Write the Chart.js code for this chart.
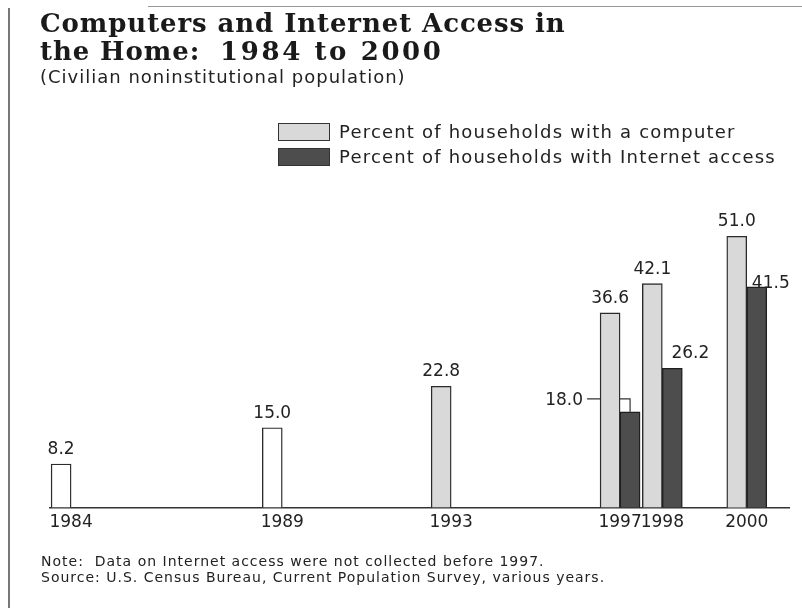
<!DOCTYPE html>
<html>
<head>
<meta charset="utf-8">
<title>Computers and Internet Access in the Home: 1984 to 2000</title>
<script src="https://cdn.jsdelivr.net/npm/chart.js@4.4.1/dist/chart.umd.min.js"></script>
<style>
  html, body { margin: 0; padding: 0; background: #fff; }
  #page { position: relative; width: 802px; height: 608px; overflow: hidden; font-family: "DejaVu Sans", sans-serif; color: #222; }
  #chart { position: absolute; left: 0; top: 0; }
  .frame-left { position: absolute; left: 8px; top: 8px; width: 2px; height: 600px; background: #777; }
  .frame-top { position: absolute; left: 148px; top: 6px; width: 654px; height: 1px; background: #999; }
  h1 { position: absolute; left: 40px; top: 9px; margin: 0; font: bold 26px/28px "DejaVu Serif", serif; letter-spacing: 0.9px; color: #1a1a1a; white-space: nowrap; }
  h1 .span { letter-spacing: 2.6px; }
  .sub { position: absolute; left: 40px; top: 67px; font-size: 18px; line-height: 20px; letter-spacing: 1px; white-space: nowrap; }
  .legend { position: absolute; left: 278px; top: 119px; font-size: 18px; letter-spacing: 1.2px; white-space: nowrap; }
  .legend .row { height: 25px; display: flex; align-items: center; }
  .legend .swatch { width: 50px; height: 16px; border: 1px solid #333; margin-right: 9px; }
  .notes { position: absolute; left: 41px; top: 553px; font-size: 14px; line-height: 16px; letter-spacing: 1px; white-space: nowrap; }
</style>
</head>
<body>
<div id="page">
  <canvas id="chart" width="802" height="608"></canvas>
  <div class="frame-left"></div>
  <div class="frame-top"></div>
  <h1>Computers and Internet Access in<br>the Home:&nbsp; <span class="span">1984 to 2000</span></h1>
  <div class="sub">(Civilian noninstitutional population)</div>
  <div class="legend" id="legend"></div>
  <div class="notes">Note:&nbsp; Data on Internet access were not collected before 1997.<br>Source: U.S. Census Bureau, Current Population Survey, various years.</div>
</div>
<script>
const years = [1984, 1989, 1993, 1997, 1998, 2000]
const computerPct = [8.2, 15.0, 22.8, 36.6, 42.1, 51.0]
const internetPct = [null, null, null, 18.0, 26.2, 41.5]
const seriesNames = ['Percent of households with a computer', 'Percent of households with Internet access']

const computerFill = '#d9d9d9'
const earlyFill = '#ffffff'   // 1984 and 1989 bars print as open boxes
const internetFill = '#4d4d4d'

// value labels that the printed figure moves off their bars
const labelNudge = {
  '1-1997': { leader: true },
  '1-1998': { dx: 18 },
  '1-2000': { dx: 14, dy: 11 }
}

const legend = document.getElementById('legend')
;[computerFill, internetFill].forEach((fill, i) => {
  const row = document.createElement('div')
  row.className = 'row'
  row.innerHTML = '<span class="swatch" style="background:' + fill + '"></span><span>' + seriesNames[i] + '</span>'
  legend.appendChild(row)
})

const valueLabels = {
  id: 'valueLabels',
  // leader line for 18.0 runs behind the 1997 computer bar
  beforeDatasetsDraw(chart) {
    const ctx = chart.ctx
    chart.data.datasets.forEach((ds, di) => {
      chart.getDatasetMeta(di).data.forEach((bar, i) => {
        const nudge = labelNudge[di + '-' + years[i]]
        if (!nudge || !nudge.leader || ds.data[i].y == null) return
        const left = chart.getDatasetMeta(0).data[i]
        const textEnd = left.x - left.width / 2 - 17
        const ly = bar.y - 13
        ctx.save()
        ctx.strokeStyle = '#333'
        ctx.lineWidth = 1.2
        ctx.beginPath()
        ctx.moveTo(textEnd + 4, ly)
        ctx.lineTo(bar.x, ly)
        ctx.lineTo(bar.x, bar.y)
        ctx.stroke()
        ctx.restore()
      })
    })
  },
  afterDatasetsDraw(chart) {
    const ctx = chart.ctx
    ctx.save()
    ctx.font = '17px "DejaVu Sans"'
    ctx.fillStyle = '#222'
    ctx.textBaseline = 'alphabetic'
    chart.data.datasets.forEach((ds, di) => {
      chart.getDatasetMeta(di).data.forEach((bar, i) => {
        const v = ds.data[i].y
        if (v == null) return
        const text = v.toFixed(1)
        const nudge = labelNudge[di + '-' + years[i]] || {}
        if (nudge.leader) {
          const left = chart.getDatasetMeta(0).data[i]
          ctx.textAlign = 'right'
          ctx.fillText(text, left.x - left.width / 2 - 17, bar.y - 7)
          return
        }
        ctx.textAlign = 'center'
        ctx.fillText(text, bar.x + (nudge.dx || 0), bar.y - 10 + (nudge.dy || 0))
      })
    })
    ctx.restore()
  }
}

new Chart(document.getElementById('chart'), {
  type: 'bar',
  data: {
    datasets: [
      {
        label: seriesNames[0],
        data: years.map((x, i) => ({ x, y: computerPct[i] })),
        backgroundColor: c => (c.raw && c.raw.x < 1990 ? earlyFill : computerFill),
        borderColor: '#2b2b2b',
        borderWidth: 1.4,
        barThickness: 20
      },
      {
        label: seriesNames[1],
        data: years.map((x, i) => ({ x, y: internetPct[i] })),
        backgroundColor: internetFill,
        borderColor: '#1e1e1e',
        borderWidth: 1.4,
        barThickness: 20
      }
    ]
  },
  options: {
    responsive: false,
    animation: false,
    devicePixelRatio: 1,
    layout: { padding: { left: 50, right: 13, top: 215, bottom: 70 } },
    plugins: {
      legend: { display: false },
      tooltip: { enabled: false }
    },
    scales: {
      x: {
        type: 'linear',
        min: 1983.5,
        max: 2001,
        offset: false,
        grid: { display: false, drawTicks: false, offset: false },
        border: { display: true, color: '#333', width: 1.5 },
        afterBuildTicks: axis => { axis.ticks = years.map(v => ({ value: v })) },
        afterFit: axis => { axis.paddingLeft = 0; axis.paddingRight = 0 },
        ticks: {
          autoSkip: false,
          maxRotation: 0,
          padding: 5,
          color: '#222',
          font: { family: 'DejaVu Sans', size: 17 },
          callback: v => String(v)
        }
      },
      y: { display: false, min: 0, max: 55 }
    }
  },
  plugins: [valueLabels]
})
</script>
</body>
</html>
